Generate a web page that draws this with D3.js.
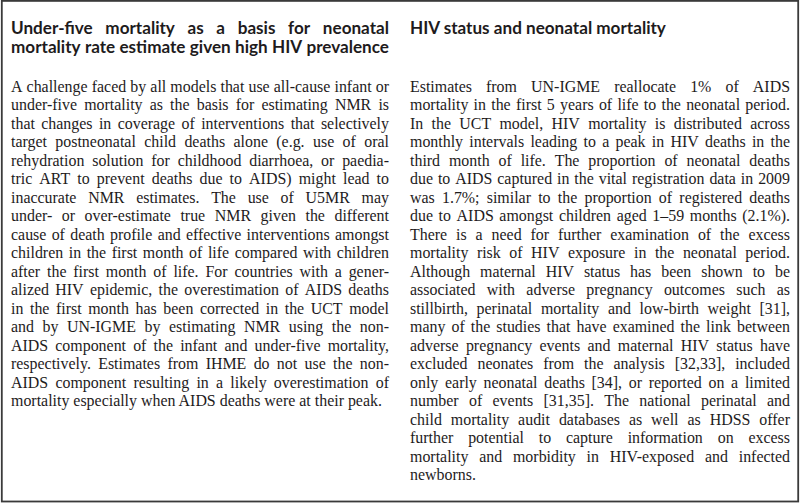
<!DOCTYPE html>
<html>
<head>
<meta charset="utf-8">
<script src="https://cdn.jsdelivr.net/npm/d3@7"></script>
<style>
  html, body { margin: 0; padding: 0; background: #fff; }
  svg { display: block; }
</style>
</head>
<body>
<svg id="page"></svg>
<script>
// text content, line by line as in the reference
var leftHeading = [
    'Under-five mortality as a basis for neonatal',
    'mortality rate estimate given high HIV prevalence'
];
var rightHeading = [
    'HIV status and neonatal mortality'
];
var leftBody = [
    'A challenge faced by all models that use all-cause infant or',
    'under-five mortality as the basis for estimating NMR is',
    'that changes in coverage of interventions that selectively',
    'target postneonatal child deaths alone (e.g. use of oral',
    'rehydration solution for childhood diarrhoea, or paedia-',
    'tric ART to prevent deaths due to AIDS) might lead to',
    'inaccurate NMR estimates. The use of U5MR may',
    'under- or over-estimate true NMR given the different',
    'cause of death profile and effective interventions amongst',
    'children in the first month of life compared with children',
    'after the first month of life. For countries with a gener-',
    'alized HIV epidemic, the overestimation of AIDS deaths',
    'in the first month has been corrected in the UCT model',
    'and by UN-IGME by estimating NMR using the non-',
    'AIDS component of the infant and under-five mortality,',
    'respectively. Estimates from IHME do not use the non-',
    'AIDS component resulting in a likely overestimation of',
    'mortality especially when AIDS deaths were at their peak.'
];
var rightBody = [
    'Estimates from UN-IGME reallocate 1% of AIDS',
    'mortality in the first 5 years of life to the neonatal period.',
    'In the UCT model, HIV mortality is distributed across',
    'monthly intervals leading to a peak in HIV deaths in the',
    'third month of life. The proportion of neonatal deaths',
    'due to AIDS captured in the vital registration data in 2009',
    'was 1.7%; similar to the proportion of registered deaths',
    'due to AIDS amongst children aged 1\u201359 months (2.1%).',
    'There is a need for further examination of the excess',
    'mortality risk of HIV exposure in the neonatal period.',
    'Although maternal HIV status has been shown to be',
    'associated with adverse pregnancy outcomes such as',
    'stillbirth, perinatal mortality and low-birth weight [31],',
    'many of the studies that have examined the link between',
    'adverse pregnancy events and maternal HIV status have',
    'excluded neonates from the analysis [32,33], included',
    'only early neonatal deaths [34], or reported on a limited',
    'number of events [31,35]. The national perinatal and',
    'child mortality audit databases as well as HDSS offer',
    'further potential to capture information on excess',
    'mortality and morbidity in HIV-exposed and infected',
    'newborns.'
];

var width = 800;
var height = 503;
var colLeft = [11, 389];
var colRight = [410, 790];
var ink = '#1e1b1c';
var serif = '"Liberation Serif", "DejaVu Serif", serif';
var sans = 'Lato, "Open Sans", sans-serif';

var svg = d3.select('#page')
    .attr('width', width)
    .attr('height', height);

svg.append('rect')
    .attr('x', 1.8)
    .attr('y', 0.9)
    .attr('width', width - 3.6)
    .attr('height', height - 2.4)
    .attr('fill', '#fff')
    .attr('stroke', '#3a3a3a')
    .attr('stroke-width', 1.8);

// measuring helper
var probe = svg.append('text').attr('x', -1000).attr('y', -1000);
function measure(str, font, size, weight) {
    probe.attr('font-family', font)
        .attr('font-size', size)
        .attr('font-weight', weight || 400)
        .text(str);
    return probe.node().getComputedTextLength();
}

// fit font size so widest natural line fits in the column
function fitSize(lines, font, base, weight, colW) {
    var maxW = d3.max(lines, l => measure(l, font, base, weight));
    return Math.min(base * 1.3, base * colW / maxW * 0.995);
}

var bodySize = fitSize(leftBody.concat(rightBody), serif, 16, 400, colLeft[1] - colLeft[0]);
var headSize = fitSize(leftHeading, sans, 16, 700, colLeft[1] - colLeft[0]);

var headY = d3.scaleLinear().domain([0, 1]).range([34, 53]);
var bodyY = d3.scaleLinear().domain([0, 21]).range([91.5, 480]);

function drawLines(lines, col, yScale, font, size, weight, justifyLast) {
    var x = d3.scaleLinear().domain([0, 1]).range(col);
    var colW = x(1) - x(0);
    lines.forEach(function(line, i) {
        var justify = i < lines.length - 1 || justifyLast;
        var t = svg.append('text')
            .attr('y', yScale(i))
            .attr('font-family', font)
            .attr('font-size', size)
            .attr('font-weight', weight)
            .attr('fill', ink);
        var words = line.split(' ');
        if (!justify || words.length < 2) {
            t.attr('x', x(0)).text(line);
            return;
        }
        var ws = words.map(w => measure(w, font, size, weight));
        var gap = (colW - d3.sum(ws)) / (words.length - 1);
        var cx = x(0);
        t.selectAll('tspan')
            .data(words)
            .enter()
            .append('tspan')
            .attr('x', function(d, k) {
                var p = cx;
                cx += ws[k] + gap;
                return p;
            })
            .text(d => d);
    });
}

drawLines(leftHeading, colLeft, headY, sans, headSize, 700, true);
drawLines(rightHeading, colRight, headY, sans, headSize, 700, false);
drawLines(leftBody, colLeft, bodyY, serif, bodySize, 400, false);
drawLines(rightBody, colRight, bodyY, serif, bodySize, 400, false);

probe.remove();
</script>
</body>
</html>
